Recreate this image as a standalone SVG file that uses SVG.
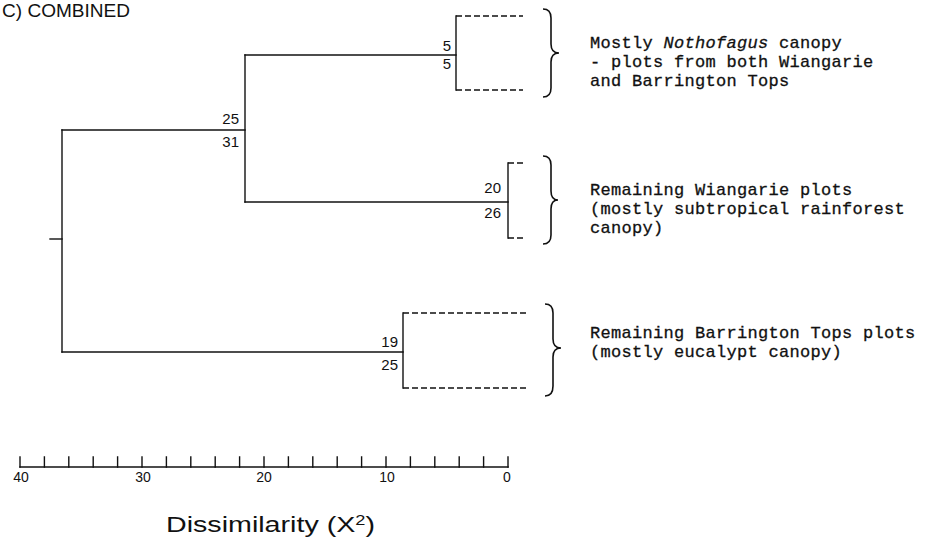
<svg xmlns="http://www.w3.org/2000/svg" width="929" height="537" viewBox="0 0 929 537">
<style>
.ln{stroke:#111;stroke-width:1.4;fill:none;stroke-linecap:square}
.dash{stroke:#111;stroke-width:1.4;fill:none;stroke-dasharray:6 3}
.br{stroke:#111;stroke-width:1.6;fill:none}
.num{font-family:"Liberation Sans",Arial,sans-serif;font-size:15px;fill:#111;text-anchor:end}
.lab{font-family:"Liberation Mono","Courier New",monospace;font-size:17px;fill:#111;letter-spacing:0.3px;stroke:#111;stroke-width:0.3}
.ax{font-family:"Liberation Sans",Arial,sans-serif;font-size:14px;fill:#111;text-anchor:middle}
.ttl{font-family:"Liberation Sans",Arial,sans-serif;fill:#111}
</style>
<rect width="929" height="537" fill="#fff"/>
<text class="ttl" x="2" y="17" font-size="19" textLength="128" lengthAdjust="spacingAndGlyphs">C) COMBINED</text>

<g id="connectors">
  <line class="ln" x1="50" y1="239" x2="62" y2="239"/>
  <line class="ln" x1="62" y1="130" x2="62" y2="352"/>
  <line class="ln" x1="62" y1="130" x2="245" y2="130"/>
  <line class="ln" x1="62" y1="352" x2="403" y2="352"/>
  <line class="ln" x1="245" y1="55" x2="245" y2="202"/>
  <line class="ln" x1="245" y1="55" x2="456" y2="55"/>
  <line class="ln" x1="245" y1="202" x2="508" y2="202"/>
</g>

<g id="node-25-31">
  <text class="num" x="239" y="124">25</text>
  <text class="num" x="239" y="147">31</text>
</g>

<g id="node-5-5">
  <line class="ln" x1="456" y1="16" x2="456" y2="90"/>
  <line class="dash" x1="456" y1="16" x2="523" y2="16"/>
  <line class="dash" x1="456" y1="90" x2="523" y2="90"/>
  <text class="num" x="451" y="51">5</text>
  <text class="num" x="451" y="69">5</text>
  <path class="br" d="M543,9 Q551,9 551,18 L551,44 Q551,53 559,53 Q551,53 551,62 L551,88 Q551,97 543,97"/>
  <text class="lab" x="590" y="48">Mostly <tspan font-style="italic">Nothofagus</tspan> canopy</text>
  <text class="lab" x="590" y="67">- plots from both Wiangarie</text>
  <text class="lab" x="590" y="86">and Barrington Tops</text>
</g>

<g id="node-20-26">
  <line class="ln" x1="508" y1="163" x2="508" y2="238"/>
  <line class="dash" x1="508" y1="163" x2="525" y2="163"/>
  <line class="dash" x1="508" y1="238" x2="525" y2="238"/>
  <text class="num" x="501" y="193">20</text>
  <text class="num" x="501" y="218">26</text>
  <path class="br" d="M543,156 Q551,156 551,165 L551,191 Q551,200 558,200 Q551,200 551,209 L551,235 Q551,244 543,244"/>
  <text class="lab" x="590" y="195">Remaining Wiangarie plots</text>
  <text class="lab" x="590" y="214">(mostly subtropical rainforest</text>
  <text class="lab" x="590" y="233">canopy)</text>
</g>

<g id="node-19-25">
  <line class="ln" x1="403" y1="313" x2="403" y2="388"/>
  <line class="dash" x1="403" y1="313" x2="528" y2="313"/>
  <line class="dash" x1="403" y1="388" x2="528" y2="388"/>
  <text class="num" x="398" y="347">19</text>
  <text class="num" x="398" y="370">25</text>
  <path class="br" d="M545,304 Q553,304 553,313 L553,339 Q553,348 561,348 Q553,348 553,357 L553,386 Q553,396 545,396"/>
  <text class="lab" x="590" y="338">Remaining Barrington Tops plots</text>
  <text class="lab" x="590" y="357">(mostly eucalypt canopy)</text>
</g>

<g id="axis">
  <line class="ln" x1="20" y1="467" x2="508" y2="467"/>
  <path class="ln" d="M20,457V467M44.4,457V467M68.8,457V467M93.2,457V467M117.6,457V467M142,457V467M166.4,457V467M190.8,457V467M215.2,457V467M239.6,457V467M264,457V467M288.4,457V467M312.8,457V467M337.2,457V467M361.6,457V467M386,457V467M410.4,457V467M434.8,457V467M459.2,457V467M483.6,457V467M508,457V467"/>
  <text class="ax" x="21" y="482">40</text>
  <text class="ax" x="143" y="482">30</text>
  <text class="ax" x="264" y="482">20</text>
  <text class="ax" x="387" y="482">10</text>
  <text class="ax" x="507" y="482">0</text>
  <text class="ttl" x="166" y="532" font-size="22" textLength="209" lengthAdjust="spacingAndGlyphs">Dissimilarity (X<tspan font-size="14" dy="-7">2</tspan><tspan dy="7">)</tspan></text>
</g>
</svg>
